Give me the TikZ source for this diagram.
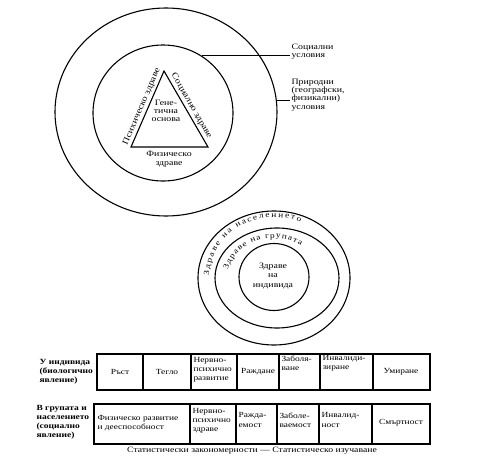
\documentclass[tikz,border=0pt]{standalone}
\usepackage{fontspec}
\setmainfont{Liberation Serif}[FakeStretch=1.2]
\usetikzlibrary{shapes.geometric,decorations.text}
\newcommand\myfs[2]{\fontsize{#1}{#2}\selectfont}
\begin{document}
\begin{tikzpicture}[x=1pt,y=-1pt,line width=1.1pt,
  ring/.style={draw,ellipse,inner sep=0pt},
  txt/.style={inner sep=1pt,font={\myfs{7.8}{9.2}}},
  mtxt/.style={txt,align=left},
  ctxt/.style={txt,align=center},
  note/.style={inner sep=1pt,align=left,font={\myfs{8.2}{8.3}}},
  rowlbl/.style={inner sep=1pt,align=left,font={\myfs{7.9}{9}\bfseries}},
  sidelbl/.style={inner sep=2pt,font={\myfs{8.5}{9}}},
  curvetxt/.style={decorate,decoration={text along path,text align=fit to path,text={#1}}}]
\fill[white] (0,0) rectangle (480,458);
\useasboundingbox (0,0) rectangle (480,458);

% ---- upper diagram ----
\node[ring,minimum width=222pt,minimum height=208pt] (outer) at (166,112) {};
\node[ring,minimum width=140pt,minimum height=136pt] (inner) at (163,113) {};
\coordinate (A) at (164,71);
\coordinate (B) at (131,147);
\coordinate (C) at (208,147);
\draw (A) -- (B) -- (C) -- cycle;
\path (B) -- node[sidelbl,sloped,above] (psy) {Психическо здраве} (A);
\path (A) -- node[sidelbl,sloped,above] (socz) {Социално здраве} (C);
\node[ctxt,font={\myfs{8.2}{8.2}}] (gen) at (166,111) {Гене-\\тична\\основа};
\node[ctxt,font={\myfs{8.2}{9.2}}] (fiz) at (169,159) {Физическо\\здраве};

\node[note,anchor=west] (soc) at (290,52) {Социални\\условия};
\node[note,anchor=west] (prir) at (290,95) {Природни\\(географски,\\физикални)\\условия};
\draw (inner.56) -- (soc.west |- inner.56);
\draw (outer.6) -- (prir.west |- outer.6);

% ---- lower diagram ----
\node[ring,minimum width=152pt,minimum height=134pt] (popC) at (274,278) {};
\node[ring,minimum width=124pt,minimum height=100pt] (grpC) at (277,278) {};
\node[ring,minimum width=70pt,minimum height=67pt] (indC) at (274,277) {};
\node[ctxt,font={\myfs{8.2}{9.2}}] (ind) at (273,276) {Здраве\\на\\индивида};
\path[curvetxt={|\myfs{7.8}{8}|Здраве на населението}]
  (274,278) ++(182:65 and 61) arc[start angle=182,end angle=294,x radius=65,y radius=61];
\path[curvetxt={|\myfs{7.8}{8}|Здраве на групата}]
  (274,278) ++(192:47 and 40) arc[start angle=192,end angle=305,x radius=47,y radius=40];

% ---- table 1 ----
\draw (97,354) rectangle (430,390);
\foreach \x in {143,191,237,279,320,373} \draw (\x,354) -- (\x,390);
\node[rowlbl,anchor=west] (t1lbl) at (38,372) {У индивида\\(биологично\\явление)};
\node[txt] (t1a) at (120,372) {Ръст};
\node[txt] (t1b) at (167,372) {Тегло};
\node[mtxt,anchor=west] (t1c) at (192,370) {Нервно-\\психично\\развитие};
\node[txt,inner sep=0pt] (t1d) at (258,372) {Раждане};
\node[mtxt,anchor=north west] (t1e) at (280,354) {Заболя-\\ване};
\node[mtxt,anchor=north west] (t1f) at (321,354) {Инвалиди-\\зиране};
\node[txt] (t1g) at (401,372) {Умиране};

% ---- table 2 ----
\draw (94,404) rectangle (430,444);
\foreach \x in {190,236,277,319,372} \draw (\x,404) -- (\x,444);
\node[rowlbl,anchor=west] (t2lbl) at (35,422) {В групата и\\населението\\(социално\\явление)};
\node[mtxt,anchor=west] (t2a) at (96,423) {Физическо развитие\\и дееспособност};
\node[mtxt,anchor=west] (t2b) at (191,421) {Нервно-\\психично\\здраве};
\node[mtxt,anchor=west] (t2c) at (237,420) {Ражда-\\емост};
\node[mtxt,anchor=west] (t2d) at (278,420) {Заболе-\\ваемост};
\node[mtxt,anchor=west] (t2e) at (320,420) {Инвалид-\\ност};
\node[txt] (t2f) at (401,423) {Смъртност};

\node[txt,font={\myfs{8.1}{9}}] (cap) at (252,451) {Статистически закономерности — Статистическо изучаване};
\end{tikzpicture}
\end{document}
